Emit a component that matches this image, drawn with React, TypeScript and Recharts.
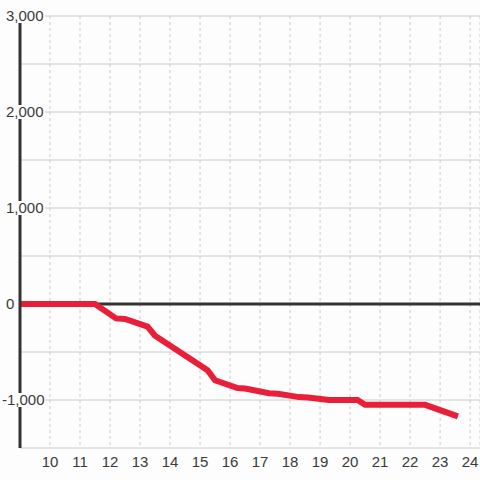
import { LineChart, Line, XAxis, YAxis, CartesianGrid, ReferenceLine } from 'recharts';

const hours = [9, 11.5, 12.2, 12.5, 13.25, 13.5, 14.3, 15.25, 15.5, 16.25, 16.5, 17.3, 17.6, 18.3, 18.6, 19.3, 20.25, 20.5, 22.5, 23.5];
const values = [0, 0, -150, -155, -235, -330, -495, -690, -795, -875, -880, -930, -935, -970, -975, -1000, -1000, -1050, -1050, -1160];
const xTicks = [10, 11, 12, 13, 14, 15, 16, 17, 18, 19, 20, 21, 22, 23, 24];
const yTicks = [-1500, -1000, -500, 0, 500, 1000, 1500, 2000, 2500, 3000];

const data = hours.map((h, i) => ({ x: h, v: values[i] }));

const BG = '#fcfdfc';
const TEXT = '#3a3a3a';

function YTick(props: any) {
  const { y, payload } = props;
  const val = payload.value as number;
  if (val % 1000 !== 0 || val === -1500) return null;
  const label = val.toLocaleString('en-US');
  return (
    <g>
      {/* label backing hides the axis line, but not for 0 where the series sits */}
      {val !== 0 && <rect x={0} y={y - 7} width={45} height={14} fill={BG} />}
      <text x={val < 0 ? 2 : 6} y={y} dy="0.35em" textAnchor="start" fontSize={15} fill={TEXT}>
        {label}
      </text>
    </g>
  );
}

export default function App() {
  return (
    <div style={{ position: 'absolute', left: 0, top: 0, width: 480, height: 480, background: BG, fontFamily: 'Arial, "Liberation Sans", sans-serif' }}>
      <LineChart width={480} height={480} data={data} margin={{ top: 16, right: 0, left: 0, bottom: 0 }}>
        <CartesianGrid vertical={false} stroke="#ccc" />
        <CartesianGrid horizontal={false} stroke="#ccc" strokeDasharray="3 3" />
        <XAxis
          dataKey="x"
          type="number"
          domain={[9, 24.33]}
          ticks={xTicks}
          allowDataOverflow
          axisLine={false}
          tickLine={false}
          tickSize={0}
          tickMargin={8}
          height={32}
          tick={{ fill: TEXT, fontSize: 15 }}
        />
        <YAxis
          type="number"
          domain={[-1500, 3000]}
          ticks={yTicks}
          width={20}
          axisLine={{ stroke: '#333', strokeWidth: 3 }}
          tickLine={false}
          tick={<YTick />}
        />
        <ReferenceLine y={0} stroke="#333" strokeWidth={3} />
        <Line
          type="linear"
          dataKey="v"
          stroke="#e91f3a"
          strokeWidth={6}
          strokeLinecap="square"
          dot={false}
          isAnimationActive={false}
        />
      </LineChart>
    </div>
  );
}
